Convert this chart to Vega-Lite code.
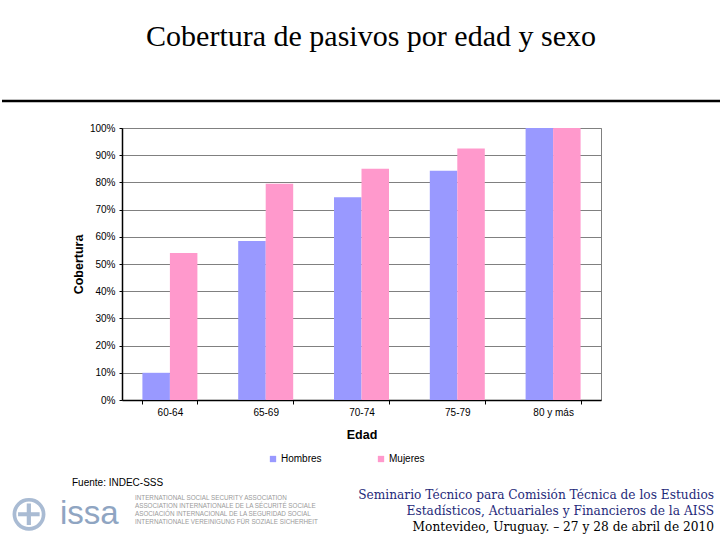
{
  "$schema": "https://vega.github.io/schema/vega-lite/v6.json",
  "background": "white",
  "padding": {"left": 0, "right": 0, "top": 21, "bottom": 0},
  "config": {
    "view": {"stroke": null},
    "font": "Liberation Sans",
    "title": {"color": "black"}
  },
  "datasets": {
    "cob": [
      {"edad": "60-64", "sexo": "Hombres", "cobertura": 0.10},
      {"edad": "60-64", "sexo": "Mujeres", "cobertura": 0.54},
      {"edad": "65-69", "sexo": "Hombres", "cobertura": 0.585},
      {"edad": "65-69", "sexo": "Mujeres", "cobertura": 0.795},
      {"edad": "70-74", "sexo": "Hombres", "cobertura": 0.745},
      {"edad": "70-74", "sexo": "Mujeres", "cobertura": 0.85},
      {"edad": "75-79", "sexo": "Hombres", "cobertura": 0.843},
      {"edad": "75-79", "sexo": "Mujeres", "cobertura": 0.925},
      {"edad": "80 y más", "sexo": "Hombres", "cobertura": 1.0},
      {"edad": "80 y más", "sexo": "Mujeres", "cobertura": 1.0}
    ]
  },
  "columns": 2,
  "bounds": "flush",
  "align": "each",
  "spacing": 0,
  "concat": [
    {
      "width": 120,
      "height": 27,
      "data": {"values": [{}]},
      "mark": {"type": "rule", "color": "black", "strokeWidth": 2.5},
      "encoding": {
        "y": {"datum": 1, "type": "quantitative", "scale": {"domain": [0, 1]}, "axis": null}
      }
    },
    {
      "width": 600,
      "height": 27,
      "data": {"values": [{}]},
      "title": {
        "text": "Cobertura de pasivos por edad y sexo",
        "orient": "top",
        "frame": "group",
        "anchor": "middle",
        "baseline": "alphabetic",
        "offset": 24,
        "dx": -51,
        "font": "Liberation Serif",
        "fontSize": 30,
        "fontWeight": "normal",
        "color": "black"
      },
      "mark": {"type": "rule", "color": "black", "strokeWidth": 2.5},
      "encoding": {
        "y": {"datum": 1, "type": "quantitative", "scale": {"domain": [0, 1]}, "axis": null}
      }
    },
    {
      "width": 120,
      "height": 272,
      "data": {"values": [{}]},
      "mark": {"type": "text", "text": ""},
      "encoding": {}
    },
    {
      "width": 479,
      "height": 272,
      "view": {"stroke": "#808080", "strokeWidth": 1},
      "data": {"name": "cob"},
      "mark": {"type": "bar"},
      "encoding": {
        "x": {
          "field": "edad",
          "type": "nominal",
          "sort": ["60-64", "65-69", "70-74", "75-79", "80 y más"],
          "scale": {"paddingInner": 0.426, "paddingOuter": 0.213},
          "axis": {
            "title": "Edad",
            "titleFontSize": 12.5,
            "titleFontWeight": "bold",
            "titleColor": "black",
            "titlePadding": 11,
            "labelAngle": 0,
            "labelFontSize": 10,
            "labelColor": "black",
            "labelPadding": 3,
            "domainColor": "black",
            "domainWidth": 1.5,
            "tickColor": "black",
            "tickSize": 4,
            "tickBand": "extent"
          }
        },
        "xOffset": {
          "field": "sexo",
          "type": "nominal",
          "sort": ["Hombres", "Mujeres"],
          "scale": {"paddingInner": 0, "paddingOuter": 0}
        },
        "y": {
          "field": "cobertura",
          "type": "quantitative",
          "scale": {"domain": [0, 1], "nice": false},
          "axis": {
            "title": "Cobertura",
            "titleFontSize": 12.5,
            "titleFontWeight": "bold",
            "titleColor": "black",
            "titlePadding": 4,
            "values": [0, 0.1, 0.2, 0.3, 0.4, 0.5, 0.6, 0.7, 0.8, 0.9, 1.0],
            "format": ".0%",
            "labelFontSize": 10,
            "labelColor": "black",
            "labelPadding": 4,
            "domainColor": "black",
            "domainWidth": 1.5,
            "tickColor": "black",
            "tickSize": 3,
            "grid": true,
            "gridColor": "#808080",
            "gridWidth": 1
          }
        },
        "color": {
          "field": "sexo",
          "type": "nominal",
          "scale": {"domain": ["Hombres", "Mujeres"], "range": ["#9999ff", "#ff99cc"]},
          "legend": {
            "title": null,
            "orient": "none",
            "legendX": 266,
            "legendY": 353,
            "direction": "horizontal",
            "symbolType": "square",
            "symbolSize": 40,
            "symbolStrokeWidth": 0,
            "labelFontSize": 10,
            "labelColor": "black",
            "labelOffset": 3,
            "columnPadding": 54
          }
        }
      }
    },
    {
      "width": 120,
      "height": 1,
      "data": {"values": [{}]},
      "title": {
        "text": "Fuente: INDEC-SSS",
        "orient": "bottom",
        "frame": "group",
        "anchor": "start",
        "baseline": "alphabetic",
        "offset": 80,
        "dx": 70,
        "font": "Liberation Sans",
        "fontSize": 10,
        "fontWeight": "normal",
        "color": "black"
      },
      "mark": {"type": "text", "text": ""},
      "encoding": {}
    },
    {
      "width": 600,
      "height": 1,
      "data": {"values": [{}]},
      "title": {
        "text": [
          "Seminario Técnico para Comisión Técnica de los Estudios",
          "Estadísticos, Actuariales y Financieros de la AISS"
        ],
        "subtitle": "Montevideo, Uruguay. – 27 y 28 de abril de 2010",
        "orient": "bottom",
        "frame": "group",
        "anchor": "end",
        "baseline": "top",
        "offset": 83,
        "dx": -8,
        "font": "DejaVu Serif",
        "fontSize": 12.2,
        "lineHeight": 16.5,
        "fontWeight": "normal",
        "color": "#1f2a7a",
        "subtitleFont": "DejaVu Serif",
        "subtitleFontSize": 12.2,
        "subtitleColor": "black",
        "subtitlePadding": 4
      },
      "mark": {"type": "text", "text": ""},
      "encoding": {}
    },
    {
      "width": 120,
      "height": 1,
      "data": {"values": [{}]},
      "title": {
        "text": "issa",
        "orient": "bottom",
        "frame": "group",
        "anchor": "start",
        "baseline": "alphabetic",
        "offset": 117,
        "dx": 58,
        "font": "Liberation Sans",
        "fontSize": 33,
        "fontWeight": "normal",
        "color": "#8fa5c2"
      },
      "mark": {"type": "text", "text": ""},
      "encoding": {}
    },
    {
      "width": 600,
      "height": 1,
      "data": {"values": [{}]},
      "title": {
        "text": [
          "INTERNATIONAL SOCIAL SECURITY ASSOCIATION",
          "ASSOCIATION INTERNATIONALE DE LA SÉCURITÉ SOCIALE",
          "ASOCIACIÓN INTERNACIONAL DE LA SEGURIDAD SOCIAL",
          "INTERNATIONALE VEREINIGUNG FÜR SOZIALE SICHERHEIT"
        ],
        "orient": "bottom",
        "frame": "group",
        "anchor": "start",
        "baseline": "alphabetic",
        "offset": 93,
        "dx": 13,
        "font": "Liberation Sans",
        "fontSize": 6.3,
        "lineHeight": 8,
        "fontWeight": "normal",
        "color": "#9a9a9a"
      },
      "mark": {"type": "text", "text": ""},
      "encoding": {}
    },
    {
      "width": 120,
      "height": 1,
      "data": {"values": [{}]},
      "title": {
        "text": "⊕",
        "orient": "bottom",
        "frame": "group",
        "anchor": "start",
        "baseline": "middle",
        "offset": 107,
        "dx": 6,
        "font": "DejaVu Sans",
        "fontSize": 50,
        "fontWeight": "normal",
        "color": "#a9bbd3"
      },
      "mark": {"type": "text", "text": ""},
      "encoding": {}
    },
    {
      "width": 600,
      "height": 1,
      "data": {"values": [{}]},
      "mark": {"type": "text", "text": ""},
      "encoding": {}
    }
  ]
}
